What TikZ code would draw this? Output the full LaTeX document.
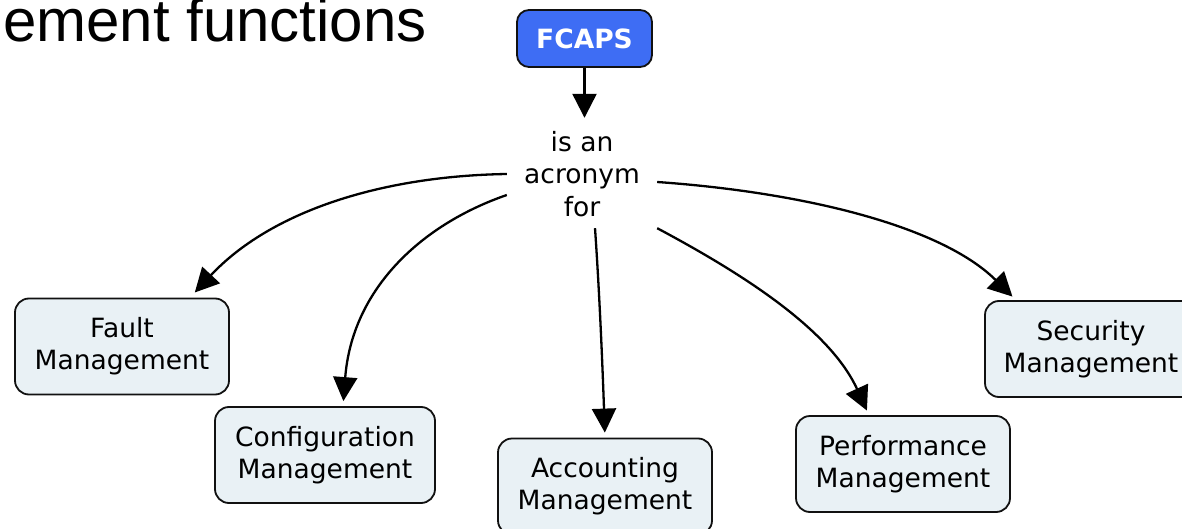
\documentclass[tikz,border=0pt]{standalone}
\usepackage{fontspec}
\setmainfont{DejaVu Sans}
\newfontfamily\titlefont{Liberation Sans}
\usetikzlibrary{arrows.meta}
\definecolor{conceptfill}{HTML}{E9F1F5}
\definecolor{rootfill}{HTML}{3E6DF4}
\definecolor{edge}{HTML}{111111}
\begin{document}
\begin{tikzpicture}[x=1pt,y=-1pt,
  concept/.style={draw=edge,line width=1.8pt,fill=conceptfill,rounded corners=14pt,
    minimum width=214pt,minimum height=96pt,align=center,inner sep=0pt,
    font=\fontsize{26.5}{32}\selectfont},
  root/.style={draw=edge,line width=1.8pt,fill=rootfill,rounded corners=12pt,
    minimum width=135pt,minimum height=57pt,inner sep=0pt,text=white,
    font=\fontsize{26.5}{32}\selectfont\bfseries},
  linkphrase/.style={minimum width=150pt,minimum height=108pt,inner sep=0pt,align=center,
    font=\fontsize{26.5}{32.5}\selectfont},
  conn/.style={draw=black,line width=2.3pt,shorten >=5pt,
    -{Triangle[length=24pt,width=24pt]}}
]
\useasboundingbox (0,0) rectangle (1182,529);
\clip (0,0) rectangle (1182,529);

% heading, partly outside the frame
\node[anchor=base east,inner sep=0pt,font=\titlefont\fontsize{60}{60}\selectfont]
  (heading) at (427,42) {ement functions};

% concepts
\node[root] (fcaps) at (584.5,38.5) {FCAPS};
\node[linkphrase] (link) at (582,174) {is an\\acronym\\for};
\node[concept] (fault) at (122,346.5) {Fault\\Management};
\node[concept,minimum width=220pt] (config) at (325,455) {Configuration\\Management};
\node[concept] (acct) at (605,486.5) {Accounting\\Management};
\node[concept] (perf) at (903,464) {Performance\\Management};
\node[concept,minimum width=212pt] (sec) at (1091,349) {Security\\Management};

% connectors
\draw[conn,shorten >=2pt] (fcaps.south) -- (fcaps.south |- link.north);
\draw[conn,shorten >=7pt] (link.west) .. controls (380,176) and (270,212) .. ([xshift=68pt]fault.north);
\draw[conn] ([yshift=-21pt]link.west) .. controls (420,225) and (352,290) .. ([xshift=18pt]config.north);
\draw[conn] ([xshift=13pt]link.south) .. controls (600,300) and (603,380) .. (acct.north);
\draw[conn] (link.south east) .. controls (745,275) and (830,330) .. ([xshift=-34pt]perf.north);
\draw[conn] ([yshift=-8pt]link.east) .. controls (800,192) and (940,225) .. ([xshift=-75pt]sec.north);
\end{tikzpicture}
\end{document}
